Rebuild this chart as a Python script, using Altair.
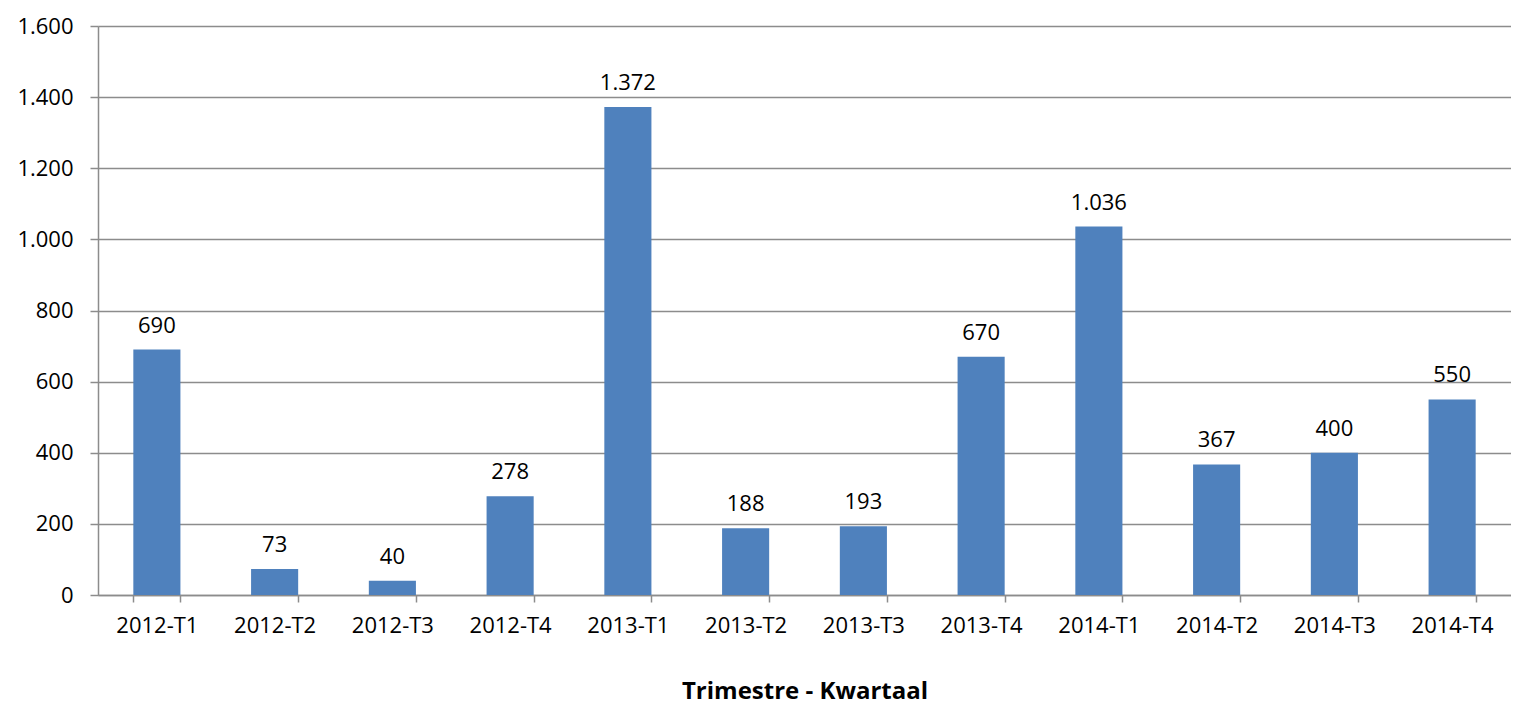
import altair as alt
import pandas as pd

quarters = ["2012-T1", "2012-T2", "2012-T3", "2012-T4",
            "2013-T1", "2013-T2", "2013-T3", "2013-T4",
            "2014-T1", "2014-T2", "2014-T3", "2014-T4"]
values = [690, 73, 40, 278, 1372, 188, 193, 670, 1036, 367, 400, 550]
y_ticks = [0, 200, 400, 600, 800, 1000, 1200, 1400, 1600]

df = pd.DataFrame({"q": quarters, "v": values})

FONT = "Open Sans"
GRID = "#8c8c8c"

base = alt.Chart(df).transform_calculate(
    lbl="replace(format(datum.v, ','), /,/g, '.')"
)

x = alt.X("q:N", sort=quarters,
          scale=alt.Scale(paddingInner=0.6, paddingOuter=0.3),
          axis=alt.Axis(title="Trimestre - Kwartaal", labelAngle=0,
                        tickBand="extent", tickSize=7, tickColor=GRID,
                        domainColor=GRID, domainWidth=1.5, tickWidth=1.5,
                        labelFont=FONT, labelFontSize=22, labelColor="black",
                        labelPadding=13,
                        titleFont=FONT, titleFontSize=24, titleFontWeight="bold",
                        titleColor="black", titlePadding=43))

y = alt.Y("v:Q", scale=alt.Scale(domain=[0, 1600], nice=False),
          axis=alt.Axis(title=None, values=y_ticks,
                        labelExpr="replace(format(datum.value, ','), /,/g, '.')",
                        tickSize=8, tickColor=GRID, tickWidth=1.5,
                        gridColor=GRID, gridWidth=1.5, domainColor=GRID, domainWidth=1.5,
                        labelFont=FONT, labelFontSize=22, labelColor="black",
                        labelPadding=17))

bars = base.mark_bar(color="#4F81BD").encode(x=x, y=y)
labels = base.mark_text(dy=-17, baseline="alphabetic", font=FONT, fontSize=22,
                        color="black").encode(x=alt.X("q:N", sort=quarters), y="v:Q", text="lbl:N")

chart = alt.layer(bars, labels).properties(
    width=1413, height=569,
    autosize=alt.AutoSizeParams(type="none"),
    padding={"left": 90, "top": 18, "right": 0, "bottom": 115},
).configure_view(stroke=None).configure(background="white")

chart.save("out.html", embed_options={"renderer": "svg", "actions": False})
